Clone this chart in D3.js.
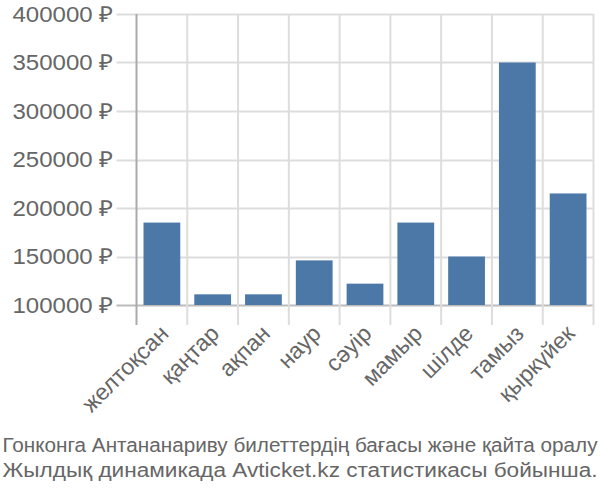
<!DOCTYPE html>
<html><head><meta charset="utf-8">
<script src="https://cdn.jsdelivr.net/npm/d3@7"></script>
<style>body{margin:0;background:#fff}svg{display:block}</style>
</head><body>
<svg id="c" width="600" height="500"></svg>
<script>
const categories = ["желтоқсан","қаңтар","ақпан","наур","сәуір","мамыр","шілде","тамыз","қыркүйек"];
const values = [185000,111000,111000,146000,122000,185000,150000,350000,215000];
const yTicks = [100000,150000,200000,250000,300000,350000,400000];
const footer = ["Гонконга Антананариву билеттердің бағасы және қайта оралу","Жылдық динамикада Avticket.kz статистикасы бойынша."];

(function(){
const svg = d3.select("#c");
const font = "'Liberation Sans', Arial, sans-serif";
const pl = 136.5, pr = 593.5, pt = 14, pb = 305;
const x = d3.scaleBand().domain(categories).range([pl, pr]).paddingInner(0.276).paddingOuter(0.138);
const y = d3.scaleLinear().domain([100000, 400000]).range([pb, pt]);

svg.append("g").selectAll("line").data(yTicks).join("line")
  .attr("x1", pl - 20).attr("x2", pr)
  .attr("y1", d => Math.round(y(d)) + 0.5).attr("y2", d => Math.round(y(d)) + 0.5)
  .attr("stroke", d => d === 100000 ? "#bbb" : "#ddd").attr("stroke-width", 2);

const step = x.step();
const bounds = d3.range(categories.length + 1).map(i => pl + i * step);
svg.append("g").selectAll("line").data(bounds).join("line")
  .attr("x1", d => d).attr("x2", d => d)
  .attr("y1", pt).attr("y2", pb + 20)
  .attr("stroke", (d, i) => i === 0 ? "#aaa" : "#ddd").attr("stroke-width", 2);

svg.append("g").selectAll("rect").data(values).join("rect")
  .attr("x", (d, i) => x(categories[i]))
  .attr("width", x.bandwidth())
  .attr("y", d => y(d))
  .attr("height", d => y(100000) - y(d))
  .attr("fill", "#4c78a8");

svg.append("g").selectAll("text").data(yTicks).join("text")
  .attr("x", 113.5).attr("y", d => y(d))
  .attr("dy", "0.35em")
  .attr("text-anchor", "end")
  .attr("textLength", 101).attr("lengthAdjust", "spacingAndGlyphs")
  .attr("font-family", font).attr("font-size", 22).attr("fill", "#666")
  .text(d => d + " ₽");

svg.append("g").selectAll("text").data(categories).join("text")
  .attr("transform", d => `translate(${x(d) + x.bandwidth() / 2 + 8},${pb + 30}) rotate(-45)`)
  .attr("text-anchor", "end")
  .attr("font-family", font).attr("font-size", 23).attr("fill", "#666")
  .text(d => d);

svg.append("g").selectAll("text").data(footer).join("text")
  .attr("x", 300).attr("y", (d, i) => 452 + i * 25)
  .attr("text-anchor", "middle")
  .attr("textLength", 595).attr("lengthAdjust", "spacingAndGlyphs")
  .attr("font-family", font).attr("font-size", 20).attr("fill", "#666")
  .text(d => d);
})();
</script>
</body></html>
